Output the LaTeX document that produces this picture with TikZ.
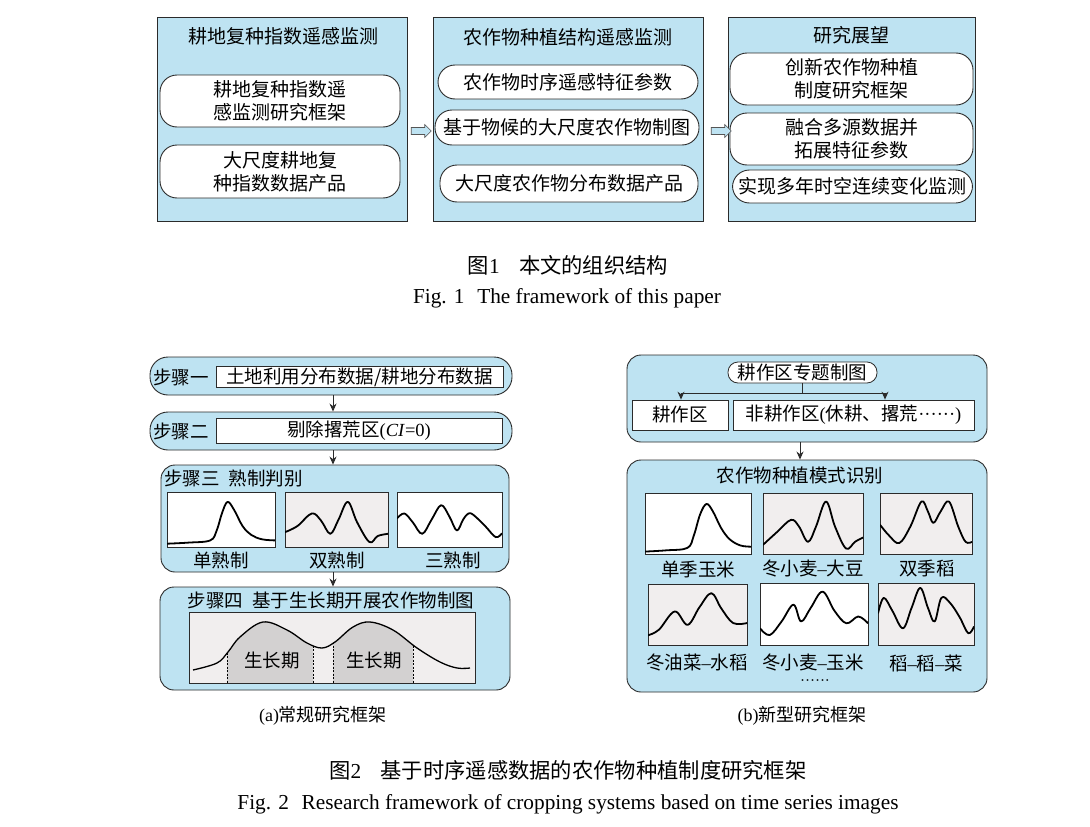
\documentclass[tikz,border=0pt]{standalone}
\usepackage{fontspec}
\setmainfont{Liberation Serif}
\newfontfamily\cjk{Noto Sans CJK SC}
\usetikzlibrary{shapes.arrows,arrows.meta,calc}
\definecolor{lblue}{HTML}{BEE3F2}
\definecolor{pbg}{HTML}{F1EEEE}
\definecolor{gp}{HTML}{D3D1D1}
\definecolor{edge}{HTML}{2B2B2B}
\newcommand\lat[1]{{\rmfamily #1}}
\newcommand\mplot[6]{%
  \draw[plotframe,fill=#5] (#1,#2) rectangle (#3,#4);
  \pgfmathsetmacro\pw{#3-#1}\pgfmathsetmacro\ph{#4-#2}%
  \begin{scope}[shift={(#1,#4)},x=\pw pt,y=\ph pt]
    \clip (0,0) rectangle (1,1);
    \draw[curve] plot[smooth,tension=0.6] coordinates {#6};
  \end{scope}}
\tikzset{
  outerbox/.style={draw=edge,line width=1pt,fill=lblue},
  pill/.style={draw=edge,line width=0.9pt,fill=white,rounded corners=17pt,align=center,inner sep=0pt,font=\fontsize{19}{23}\selectfont\cjk},
  ttl/.style={inner sep=0pt,font=\fontsize{19}{23}\selectfont\cjk},
  txt/.style={inner sep=0pt,font=\fontsize{18.5}{22}\selectfont\cjk},
  blockarrow/.style={single arrow,draw=edge!80,fill=lblue,line width=0.6pt,minimum height=20pt,inner sep=3.2pt,single arrow head extend=3pt},
  stepbar/.style={draw=edge,fill=lblue,line width=0.9pt,rounded corners=18pt,minimum width=362pt,minimum height=38pt},
  whitebox/.style={draw=edge,fill=white,line width=0.8pt,inner sep=0pt,font=\fontsize{18.5}{22}\selectfont\cjk},
  panel/.style={draw=edge,fill=lblue,line width=0.9pt,rounded corners=14pt},
  arr/.style={draw=edge,line width=0.9pt,-{Stealth[length=8pt,width=7pt]}},
  plotframe/.style={draw=edge,line width=0.8pt},
  curve/.style={line width=1.8pt,black,line join=round},
  captxt/.style={inner sep=0pt,font=\fontsize{21.3}{25}\selectfont},
}
\begin{document}
\begin{tikzpicture}[x=1pt,y=-1pt]
\useasboundingbox (0,0) rectangle (1090,827);
\fill[white] (0,0) rectangle (1090,827);
% ---------- Figure 1 ----------
\node[outerbox,minimum width=250pt,minimum height=204pt] (b1) at (282.5,119.5) {};
\node[outerbox,minimum width=270pt,minimum height=204pt] (b2) at (568,119.5) {};
\node[outerbox,minimum width=247pt,minimum height=204pt] (b3) at (851.5,119.5) {};
\node[ttl] (t1) at (283,36) {耕地复种指数遥感监测};
\node[ttl] (t2) at (568,37) {农作物种植结构遥感监测};
\node[ttl] (t3) at (851,35) {研究展望};
\node[pill,minimum width=240pt,minimum height=52pt] (p11) at (280,101) {耕地复种指数遥\\感监测研究框架};
\node[pill,minimum width=240pt,minimum height=53pt] (p12) at (280,171.5) {大尺度耕地复\\种指数数据产品};
\node[pill,minimum width=260pt,minimum height=34pt] (p21) at (568,82) {农作物时序遥感特征参数};
\node[pill,minimum width=264pt,minimum height=35pt] (p22) at (567,127.5) {基于物候的大尺度农作物制图};
\node[pill,minimum width=258pt,minimum height=37pt] (p23) at (569,183.5) {大尺度农作物分布数据产品};
\node[pill,minimum width=243pt,minimum height=52pt] (p31) at (851.5,79) {创新农作物种植\\制度研究框架};
\node[pill,minimum width=243pt,minimum height=52pt] (p32) at (851.5,139) {融合多源数据并\\拓展特征参数};
\node[pill,minimum width=240pt,minimum height=33pt] (p33) at (852.5,186.5) {实现多年时空连续变化监测};
\node[blockarrow] (a1) at (419.5,131) {};
\node[blockarrow] (a2) at (719.5,131) {};
\node[captxt] (c1a) at (568,265) {{\cjk 图}1\hspace{0.9em}{\cjk 本文的组织结构}};
\node[captxt] (c1b) at (567,298) {Fig. 1\hspace{0.6em}The framework of this paper};
% ---------- Figure 2a ----------
\node[stepbar] (s1) at (331,376) {};
\node[stepbar] (s2) at (331,431) {};
\node[txt] (s1l) at (181,377) {步骤一};
\node[txt] (s2l) at (181,431) {步骤二};
\node[whitebox,minimum width=287pt,minimum height=21pt] (s1b) at (359.5,377) {土地利用分布数据/耕地分布数据};
\node[whitebox,minimum width=286pt,minimum height=25pt] (s2b) at (359,430.5) {剔除撂荒区\lat{(\textit{CI}=0)}};
\node[panel,minimum width=348pt,minimum height=107pt] (s3) at (335,518.5) {};
\node[txt,anchor=west] (s3t) at (164,478) {步骤三\hspace{0.5em}熟制判别};
\node[panel,minimum width=350pt,minimum height=103pt] (s4) at (335,638.5) {};
\node[txt] (s4t) at (331,600) {步骤四\hspace{0.5em}基于生长期开展农作物制图};
\coordinate (ax) at (333,0);
\draw[arr] (s1.south -| ax) -- (s2.north -| ax);
\draw[arr] (s2.south -| ax) -- (s3.north -| ax);
\draw[arr] (s3.south -| ax) -- (s4.north -| ax);
\mplot{167}{492}{275}{547}{white}{(0,0.06)(0.2,0.08)(0.4,0.12)(0.46,0.3)(0.51,0.62)(0.56,0.82)(0.62,0.68)(0.7,0.38)(0.78,0.22)(0.88,0.14)(1,0.12)}
\mplot{285}{492}{388}{547}{pbg}{(0,0.27)(0.12,0.38)(0.26,0.61)(0.35,0.48)(0.44,0.24)(0.52,0.5)(0.61,0.82)(0.7,0.45)(0.82,0.09)(0.9,0.2)(1,0.24)}
\mplot{397}{492}{502}{547}{white}{(0,0.52)(0.07,0.61)(0.15,0.45)(0.24,0.24)(0.33,0.5)(0.42,0.76)(0.5,0.55)(0.57,0.3)(0.63,0.5)(0.68,0.61)(0.73,0.58)(0.84,0.38)(0.94,0.18)(1,0.25)}
\node[txt] (l1) at (221,560) {单熟制};
\node[txt] (l2) at (337,560) {双熟制};
\node[txt] (l3) at (453,560) {三熟制};
% step 4 plot
\draw[plotframe,fill=pbg] (189,612) rectangle (475,683);
\def\gcurve{plot[smooth,tension=0.6] coordinates {(193,670)(217,663)(228,652)(240,637)(263,622)(287,630)(307,643)(322,648)(335,642)(353,627)(370,622)(393,630)(417,648)(440,662)(457,668)(470,668)}}
\begin{scope}
  \clip (227,600) rectangle (313,683) (333,600) rectangle (413,683);
  \fill[gp] \gcurve -- (470,683) -- (193,683) -- cycle;
\end{scope}
\begin{scope}
  \clip \gcurve -- (470,683) -- (193,683) -- cycle;
  \foreach \xx in {227,313,333,413} \draw[line width=0.7pt,dash pattern=on 2pt off 1.5pt] (\xx,600) -- (\xx,683);
\end{scope}
\draw[curve,line width=1.3pt] \gcurve;
\draw[plotframe] (189,612) rectangle (475,683);
\node[txt] (g1) at (272,660) {生长期};
\node[txt] (g2) at (374,660) {生长期};
\node[inner sep=0pt,font=\fontsize{18}{22}\selectfont] (ca) at (323,716) {(a){\cjk 常规研究框架}};
% ---------- Figure 2b ----------
\node[panel,minimum width=360pt,minimum height=87pt] (q1) at (807,398.5) {};
\node[draw=edge,fill=white,line width=0.8pt,rounded corners=10pt,minimum width=149pt,minimum height=21pt,txt] (qt) at (802.5,372.5) {耕作区专题制图};
\node[whitebox,minimum width=96pt,minimum height=30pt] (r1) at (680,415) {耕作区};
\node[whitebox,minimum width=241pt,minimum height=30pt] (r2) at (853.5,415) {非耕作区\lat{(}休耕、撂荒\lat{······)}};
\coordinate (jL) at (681,393);
\coordinate (jR) at (885,393);
\draw[draw=edge,line width=0.9pt] (qt.south) -- (qt.south |- jL);
\draw[draw=edge,line width=0.9pt] (jL) -- (jR);
\draw[arr] (jL) -- (jL |- r1.north);
\draw[arr] (jR) -- (jR |- r2.north);
\node[panel,minimum width=360pt,minimum height=232pt] (q2) at (807,576) {};
\coordinate (bx) at (800,0);
\draw[arr] (q1.south -| bx) -- (q2.north -| bx);
\node[txt] (q2t) at (800,475) {农作物种植模式识别};
\mplot{645}{493}{751}{554}{white}{(0,0.04)(0.2,0.06)(0.4,0.1)(0.46,0.3)(0.52,0.65)(0.58,0.82)(0.64,0.7)(0.72,0.42)(0.8,0.24)(0.9,0.14)(1,0.12)}
\mplot{763}{493}{863}{554}{pbg}{(0,0.15)(0.14,0.36)(0.28,0.56)(0.36,0.45)(0.45,0.2)(0.53,0.45)(0.63,0.86)(0.72,0.45)(0.83,0.09)(0.92,0.2)(1,0.27)}
\mplot{880}{493}{972}{554}{pbg}{(0,0.48)(0.1,0.3)(0.21,0.18)(0.33,0.45)(0.45,0.86)(0.52,0.7)(0.58,0.51)(0.66,0.7)(0.75,0.86)(0.85,0.45)(0.93,0.2)(1,0.2)}
\mplot{648}{584}{747}{645}{pbg}{(0,0.16)(0.11,0.25)(0.27,0.55)(0.4,0.33)(0.52,0.62)(0.64,0.85)(0.74,0.6)(0.86,0.36)(1,0.36)}
\mplot{760}{583}{868}{645}{white}{(0,0.27)(0.09,0.16)(0.2,0.38)(0.31,0.65)(0.38,0.38)(0.47,0.6)(0.58,0.86)(0.69,0.55)(0.8,0.35)(0.91,0.46)(1,0.35)}
\mplot{878}{583}{974}{645}{pbg}{(0,0.51)(0.06,0.76)(0.15,0.55)(0.26,0.27)(0.35,0.6)(0.44,0.92)(0.52,0.6)(0.59,0.38)(0.66,0.76)(0.75,0.68)(0.85,0.45)(0.94,0.19)(1,0.3)}
\node[txt] (m1) at (698,569) {单季玉米};
\node[txt] (m2) at (813,569) {冬小麦\lat{–}大豆};
\node[txt] (m3) at (927,569) {双季稻};
\node[txt] (m4) at (697,663) {冬油菜\lat{–}水稻};
\node[txt] (m5) at (813,663) {冬小麦\lat{–}玉米};
\node[txt] (m6) at (926,663) {稻\lat{–}稻\lat{–}菜};
\node[inner sep=0pt,font=\fontsize{15}{18}\selectfont] (dots) at (815,683) {\lat{······}};
\node[inner sep=0pt,font=\fontsize{18}{22}\selectfont] (cb) at (802,716) {(b){\cjk 新型研究框架}};
% ---------- Figure 2 caption ----------
\node[captxt] (c2a) at (568,770) {{\cjk 图}2\hspace{0.9em}{\cjk 基于时序遥感数据的农作物种植制度研究框架}};
\node[captxt] (c2b) at (568,804) {Fig. 2\hspace{0.6em}Research framework of cropping systems based on time series images};
\end{tikzpicture}
\end{document}
